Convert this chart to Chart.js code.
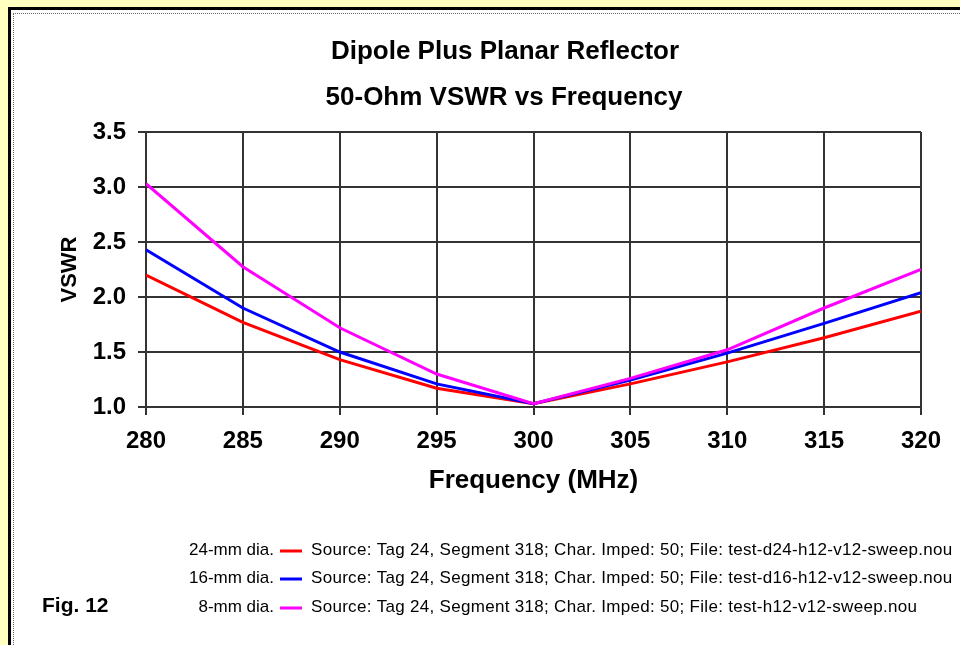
<!DOCTYPE html>
<html>
<head>
<meta charset="utf-8">
<script src="https://cdn.jsdelivr.net/npm/chart.js@4.4.1/dist/chart.umd.min.js"></script>
<style>
    html, body { margin: 0; padding: 0; }
    body {
        width: 960px;
        height: 645px;
        overflow: hidden;
        background: #ffffc0;
        position: relative;
    }
    #frame {
        position: absolute;
        left: 8px;
        top: 7px;
        width: 960px;
        height: 645px;
        background: #ffffff;
        border-left: 3px solid #000;
        border-top: 3px solid #000;
    }
    #dots {
        position: absolute;
        left: 13px;
        top: 13px;
        width: 960px;
        height: 645px;
        border-left: 1px dotted #666;
        border-top: 1px dotted #666;
    }
    #chart {
        position: absolute;
        left: 0;
        top: 0;
    }
</style>
</head>
<body>
<div id="frame"></div>
<div id="dots"></div>
<canvas id="chart" width="960" height="645"></canvas>
<script>
    // frequency sweep, MHz
    let freqs = [280, 285, 290, 295, 300, 305, 310, 315, 320];

    // VSWR for each element diameter
    let vswr24 = [2.20, 1.77, 1.43, 1.17, 1.03, 1.21, 1.41, 1.63, 1.87];
    let vswr16 = [2.43, 1.90, 1.50, 1.21, 1.03, 1.245, 1.49, 1.76, 2.04];
    let vswr8 = [3.03, 2.275, 1.72, 1.30, 1.03, 1.26, 1.52, 1.90, 2.25];

    let seriesNames = ['24-mm dia.', '16-mm dia.', '8-mm dia.'];
    let seriesNotes = [
        'Source: Tag 24, Segment 318; Char. Imped: 50; File: test-d24-h12-v12-sweep.nou',
        'Source: Tag 24, Segment 318; Char. Imped: 50; File: test-d16-h12-v12-sweep.nou',
        'Source: Tag 24, Segment 318; Char. Imped: 50; File: test-h12-v12-sweep.nou'
    ];
    let seriesColors = ['#ff0000', '#0000ff', '#ff00ff'];

    let titleLines = ['Dipole Plus Planar Reflector', '50-Ohm VSWR vs Frequency'];
    let figLabel = 'Fig. 12';

    let FONT = "'Liberation Sans', Arial, sans-serif";

    let toPoints = function (ys) {
        return ys.map((y, i) => ({ x: freqs[i], y: y }));
    };

    let allSeries = [vswr24, vswr16, vswr8];
    let datasets = allSeries.map((ys, i) => ({
        label: seriesNames[i],
        data: toPoints(ys),
        borderColor: seriesColors[i],
        backgroundColor: seriesColors[i],
        borderWidth: 3,
        pointRadius: 0,
        tension: 0,
        fill: false,
        order: allSeries.length - i
    }));

    // titles, notes and the figure label are plain canvas text
    let textPlugin = {
        id: 'figureText',
        afterDraw(chart) {
            let ctx = chart.ctx;
            ctx.save();
            ctx.fillStyle = '#000';
            ctx.textBaseline = 'middle';

            ctx.font = 'bold 26px ' + FONT;
            ctx.textAlign = 'center';
            ctx.fillText(titleLines[0], 505, 52);
            ctx.fillText(titleLines[1], 504, 98);

            ctx.font = 'bold 21px ' + FONT;
            ctx.textAlign = 'left';
            ctx.fillText(figLabel, 42, 606);

            let rows = [550, 578, 607];
            chart.data.datasets.forEach((ds, i) => {
                let y = rows[i];
                ctx.font = '17px ' + FONT;
                ctx.letterSpacing = '0px';
                ctx.textAlign = 'right';
                ctx.fillText(ds.label, 274, y);
                ctx.strokeStyle = ds.borderColor;
                ctx.lineWidth = 3;
                ctx.beginPath();
                ctx.moveTo(280, y + 1);
                ctx.lineTo(302, y + 1);
                ctx.stroke();
                ctx.textAlign = 'left';
                ctx.letterSpacing = '0.3px';
                ctx.fillText(seriesNotes[i], 311, y);
            });
            ctx.restore();
        }
    };

    let gridStyle = {
        color: '#333333',
        lineWidth: 2,
        tickLength: 8,
        drawTicks: true
    };

    let myChart = new Chart(document.getElementById('chart'), {
        type: 'line',
        data: { datasets: datasets },
        options: {
            responsive: false,
            animation: false,
            devicePixelRatio: 1,
            layout: {
                padding: { left: 40, top: 132, right: 39, bottom: 148 }
            },
            plugins: {
                legend: { display: false },
                tooltip: { enabled: false }
            },
            scales: {
                x: {
                    type: 'linear',
                    min: 280,
                    max: 320,
                    grid: gridStyle,
                    border: { color: '#333333', width: 2 },
                    ticks: {
                        stepSize: 5,
                        color: '#000',
                        padding: 12,
                        maxRotation: 0,
                        font: { family: FONT, size: 24, weight: 'bold' }
                    },
                    title: {
                        display: true,
                        text: 'Frequency (MHz)',
                        color: '#000',
                        padding: { top: 0, bottom: 1 },
                        font: { family: FONT, size: 26, weight: 'bold' }
                    },
                    afterFit(scale) {
                        scale.height = 90;
                    }
                },
                y: {
                    min: 1,
                    max: 3.5,
                    grid: gridStyle,
                    border: { color: '#333333', width: 2 },
                    ticks: {
                        stepSize: 0.5,
                        color: '#000',
                        padding: 12,
                        callback: v => v.toFixed(1),
                        font: { family: FONT, size: 24, weight: 'bold' }
                    },
                    title: {
                        display: true,
                        text: 'VSWR',
                        color: '#000',
                        padding: { top: 17, bottom: 0 },
                        font: { family: FONT, size: 22, weight: 'bold' }
                    },
                    afterFit(scale) {
                        scale.width = 106;
                    }
                }
            }
        },
        plugins: [textPlugin]
    });
</script>
</body>
</html>
